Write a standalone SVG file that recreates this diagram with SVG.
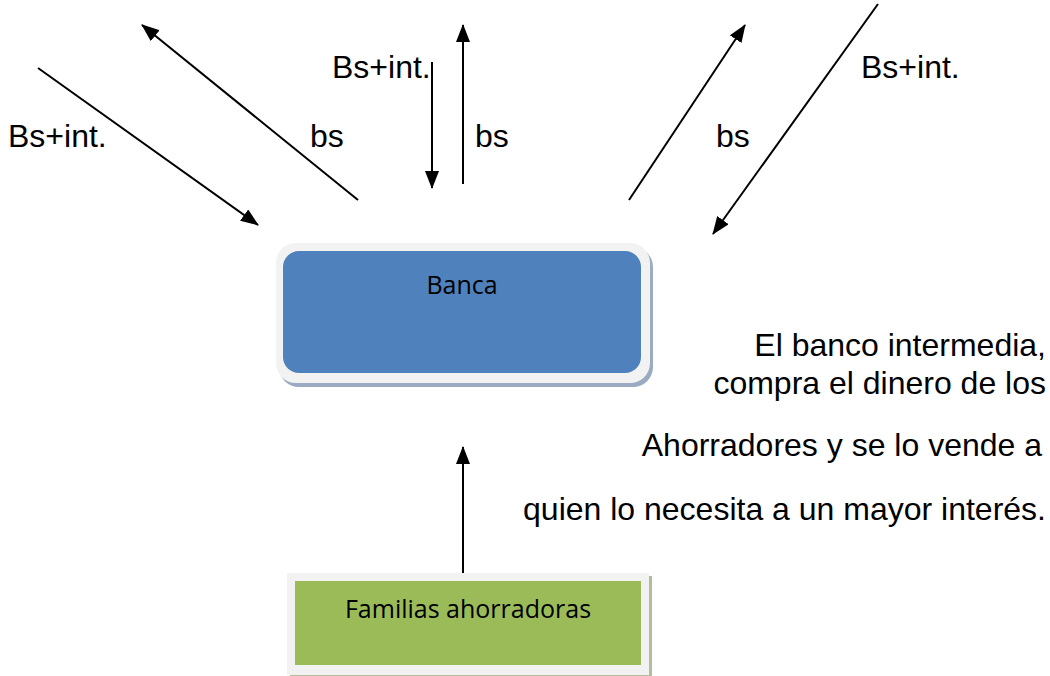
<svg xmlns="http://www.w3.org/2000/svg" width="1050" height="676" viewBox="0 0 1050 676">
<style>
.lbl{font-family:"Liberation Sans",Arial,sans-serif;font-size:32px;fill:#000}
.node{font-family:"Open Sans","Noto Sans",sans-serif;font-size:25px;fill:#000}
.conn{stroke:#000;stroke-width:2;fill:none;marker-end:url(#ah)}
</style>
<defs>
<marker id="ah" markerUnits="userSpaceOnUse" markerWidth="18" markerHeight="14" viewBox="0 0 18 14" refX="17" refY="7" orient="auto">
<path d="M0,0 L18,7 L0,14 Z" fill="#000"/>
</marker>
</defs>
<rect width="1050" height="676" fill="#fff"/>
<g id="connectors">
<line class="conn" x1="38" y1="68" x2="258" y2="225"/>
<line class="conn" x1="358" y1="200" x2="142" y2="25"/>
<line class="conn" x1="432" y1="62" x2="432" y2="188"/>
<line class="conn" x1="463" y1="184" x2="463" y2="25"/>
<line class="conn" x1="629" y1="200" x2="745" y2="25"/>
<line class="conn" x1="878" y1="4" x2="713" y2="234"/>
<line class="conn" x1="463" y1="578" x2="463" y2="447"/>
</g>
<g id="labels">
<text class="lbl" x="8" y="147">Bs+int.</text>
<text class="lbl" x="310" y="147">bs</text>
<text class="lbl" x="332" y="78">Bs+int.</text>
<text class="lbl" x="475" y="147">bs</text>
<text class="lbl" x="716" y="147">bs</text>
<text class="lbl" x="861" y="78">Bs+int.</text>
</g>
<g id="banca">
<rect x="279" y="247" width="374" height="140" rx="20" fill="#9aabc2"/>
<rect x="276" y="243" width="374" height="140" rx="20" fill="#f2f2f2"/>
<rect x="283" y="251" width="358" height="122" rx="16" fill="#4f81bd"/>
<text class="node" x="462" y="294" text-anchor="middle">Banca</text>
</g>
<g id="familias">
<rect x="290" y="576" width="362" height="102" fill="#b2bd9e"/>
<rect x="287" y="573" width="362" height="102" fill="#f2f2f2"/>
<rect x="295" y="581" width="346" height="84" fill="#9bbb59"/>
<text class="node" x="468" y="618" text-anchor="middle">Familias ahorradoras</text>
</g>
<g id="note" text-anchor="end">
<text class="lbl" x="1046" y="356">El banco intermedia,</text>
<text class="lbl" x="1046" y="394">compra el dinero de los</text>
<text class="lbl" x="1042" y="456">Ahorradores y se lo vende a</text>
<text class="lbl" x="1046" y="520">quien lo necesita a un mayor interés.</text>
</g>
</svg>
